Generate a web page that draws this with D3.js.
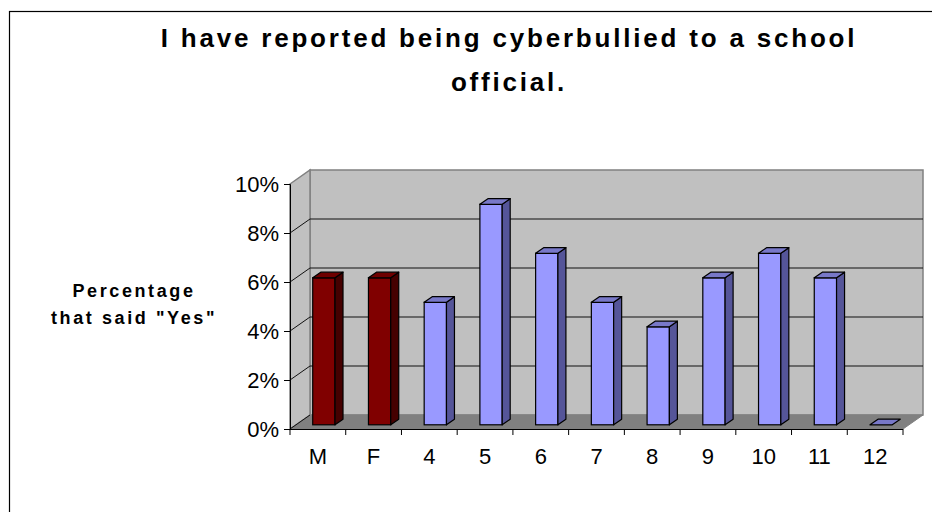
<!DOCTYPE html>
<html>
<head>
<meta charset="utf-8">
<script src="https://cdn.jsdelivr.net/npm/d3@7"></script>
<style>
  html, body { margin: 0; padding: 0; background: #fff; }
  svg { display: block; font-family: Arial, "Liberation Sans", sans-serif; }
</style>
</head>
<body>
<svg id="chart" width="932" height="512"></svg>
<script>
const categories = ["M", "F", "4", "5", "6", "7", "8", "9", "10", "11", "12"];
const values = [6, 6, 5, 9, 7, 5, 4, 6, 7, 6, 0];
const seriesGroup = ["gender", "gender", "grade", "grade", "grade", "grade", "grade", "grade", "grade", "grade", "grade"];
const yTicks = [0, 2, 4, 6, 8, 10];
const titleLines = ["I have reported being cyberbullied to a school", "official."];
const yTitleLines = ["Percentage", "that said \"Yes\""];

const svg = d3.select("#chart");
const FONT = "Arial, 'Liberation Sans', sans-serif";

// chart border
svg.append("rect").attr("x", 9.5).attr("y", 11.5).attr("width", 960).attr("height", 560)
  .attr("fill", "none").attr("stroke", "#000").attr("stroke-width", 1.2);

const x0 = 290, x1 = 903;
const y = d3.scaleLinear().domain([0, 10]).range([429, 184]);
const x = d3.scaleBand().domain(categories).range([x0, x1]).paddingInner(0).paddingOuter(0);
const DX = 20, DY = -14;

const colors = {
  gender: { front: "#800000", top: "#6e0000", side: "#450000" },
  grade: { front: "#9999FF", top: "#7878C8", side: "#555599" }
};

const g = svg.append("g");

// back wall
g.append("rect").attr("x", x0 + DX).attr("y", y(10) + DY)
  .attr("width", x1 - x0).attr("height", y(0) - y(10))
  .attr("fill", "#C0C0C0").attr("stroke", "#808080").attr("stroke-width", 1.5);
// left wall
g.append("polygon").attr("points", [
  [x0, y(10)], [x0 + DX, y(10) + DY], [x0 + DX, y(0) + DY], [x0, y(0)]
].map(p => p.join(",")).join(" "))
  .attr("fill", "#C0C0C0").attr("stroke", "#808080").attr("stroke-width", 1.5);
// floor
g.append("polygon").attr("points", [
  [x0, y(0)], [x1, y(0)], [x1 + DX, y(0) + DY], [x0 + DX, y(0) + DY]
].map(p => p.join(",")).join(" "))
  .attr("fill", "#808080").attr("stroke", "#808080").attr("stroke-width", 1);

// gridlines
yTicks.filter(t => t > 0 && t < 10).forEach(t => {
  g.append("line").attr("x1", x0 + DX).attr("x2", x1 + DX)
    .attr("y1", y(t) + DY).attr("y2", y(t) + DY)
    .attr("stroke", "#111").attr("stroke-width", 1);
});
yTicks.filter(t => t < 10).forEach(t => {
  g.append("line").attr("x1", x0).attr("y1", y(t))
    .attr("x2", x0 + DX).attr("y2", y(t) + DY)
    .attr("stroke", "#111").attr("stroke-width", 1);
});

// axes
const yAxis = d3.axisLeft(y).tickValues(yTicks).tickFormat(d => d + "%").tickSize(6).tickPadding(5);
const yG = svg.append("g").attr("transform", `translate(${x0},0)`).call(yAxis);
yG.attr("font-size", 22).attr("font-family", FONT);
yG.select(".domain").attr("stroke", "#000");
yG.selectAll("text").attr("font-size", 22).attr("fill", "#000").attr("dy", "0.36em");

const xAxisLine = svg.append("g").attr("font-family", FONT);
xAxisLine.append("line").attr("x1", x0).attr("x2", x1).attr("y1", y(0) + 0.5).attr("y2", y(0) + 0.5).attr("stroke", "#000");
const boundaries = categories.map(c => x(c)).concat([x1]);
boundaries.forEach(b => {
  xAxisLine.append("line").attr("x1", b).attr("x2", b).attr("y1", y(0)).attr("y2", y(0) + 6).attr("stroke", "#000");
});
categories.forEach(c => {
  xAxisLine.append("text").attr("x", x(c) + x.bandwidth() / 2).attr("y", 464)
    .attr("text-anchor", "middle").attr("font-size", 22).text(c);
});

// bars
const bw = x.bandwidth();
const w = bw * 0.4;
const f1 = 0.3, f2 = 0.7;
const bars = svg.append("g");
categories.forEach((c, i) => {
  const v = values[i];
  const col = colors[seriesGroup[i]];
  const xl = x(c) + (bw - w) / 2;
  const ax = xl + f1 * DX, ay = f1 * DY;
  const bx = xl + f2 * DX, by = f2 * DY;
  const yv = y(v), yb = y(0);
  const pts = a => a.map(p => p.join(",")).join(" ");
  if (v > 0) {
    bars.append("rect").attr("x", ax).attr("y", yv + ay).attr("width", w).attr("height", yb - yv)
      .attr("fill", col.front).attr("stroke", "#000").attr("stroke-width", 1.2);
    bars.append("polygon").attr("points", pts([[ax + w, yv + ay], [bx + w, yv + by], [bx + w, yb + by], [ax + w, yb + ay]]))
      .attr("fill", col.side).attr("stroke", "#000").attr("stroke-width", 1.2).attr("stroke-linejoin", "round");
  }
  bars.append("polygon").attr("points", pts([[ax, yv + ay], [ax + w, yv + ay], [bx + w, yv + by], [bx, yv + by]]))
    .attr("fill", col.top).attr("stroke", "#000").attr("stroke-width", 1.2).attr("stroke-linejoin", "round");
});

// title
const title = svg.append("text").attr("text-anchor", "middle").attr("font-size", 26)
  .attr("font-weight", "bold").attr("letter-spacing", 2.8).attr("font-family", FONT);
titleLines.forEach((t, i) => {
  title.append("tspan").attr("x", 509).attr("y", 47 + i * 44).text(t);
});

// y title
const yt = svg.append("text").attr("text-anchor", "middle").attr("font-size", 18)
  .attr("font-weight", "bold").attr("letter-spacing", 2.6).attr("font-family", FONT);
yTitleLines.forEach((t, i) => {
  yt.append("tspan").attr("x", 134).attr("y", 297 + i * 27).text(t);
});
</script>
</body>
</html>
